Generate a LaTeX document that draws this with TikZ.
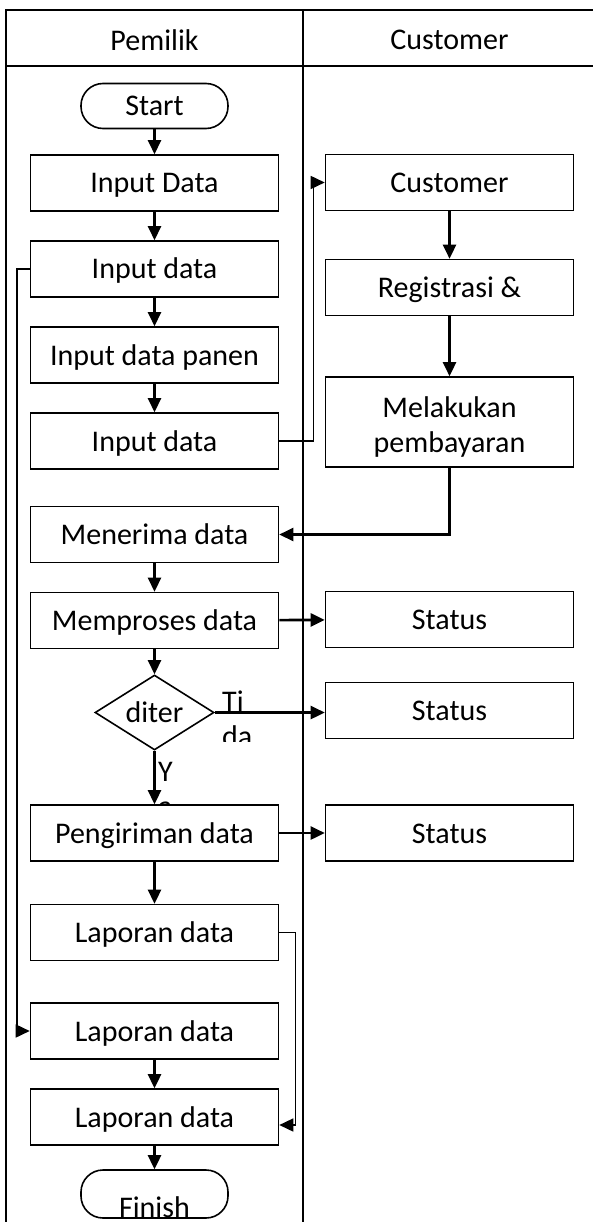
\documentclass[tikz,border=0pt]{standalone}
\usepackage{fontspec}
\setmainfont{Carlito}
\usetikzlibrary{arrows.meta,shapes.geometric}

\begin{document}
\begin{tikzpicture}[x=1pt, y=-1pt, node distance=86pt,
  font=\fontsize{30}{35}\selectfont,
  box/.style = {draw, line width=1.6pt, fill=white, minimum width=248pt, minimum height=56pt, inner sep=0pt, text height=26pt, text depth=6pt},
  term/.style = {draw, line width=1.6pt, fill=white, rounded corners=22pt, minimum width=147pt, minimum height=45pt, inner sep=0pt, text height=26pt, text depth=6pt},
  dec/.style = {draw, diamond, line width=1.6pt, fill=white, minimum width=119pt, minimum height=75pt, inner sep=0pt, aspect=1.6},
  flow/.style = {line width=2.6pt, -{Triangle[length=14pt,width=13pt]}},
  link/.style = {line width=1.6pt, -{Triangle[length=14pt,width=13pt]}},
  lane/.style = {line width=1.8pt},
  lbl/.style = {inner sep=0pt, align=left}]
\useasboundingbox (0,0) rectangle (593,1222);

% lanes
\draw[lane] (6,1222) -- (6,10) -- (593,10);
\draw[lane] (6,66) -- (593,66);
\draw[lane] (303,10) -- (303,1222);
\node (hpemilik) at (154.5,40) {Pemilik};
\node (hcust) at (449.5,40) {Customer};

% pemilik
\node[term] (start) at (154.5,106) {Start};
\node[box] (in1) at (154.5,183) {Input Data};
\node[box] (in2) [below of=in1] {Input data};
\node[box] (panen) [below of=in2] {Input data panen};
\node[box] (in3) [below of=panen] {Input data};
\node[box] (terima) at (154.5,534.5) {Menerima data};
\node[box] (proses) [below of=terima] {Memproses data};
\node[dec] (cek) at (154.5,712.5) {diter};
\begin{scope}
\clip (216,680) rectangle (300,741);
\node[lbl, anchor=north west] (tidak) at (222,691) {Ti\\da};
\end{scope}
\node[lbl, anchor=north west] (ya) at (158,762) {Y\\a};
\node[box] (kirim) at (154.5,833) {Pengiriman data};
\node[box] (lap1) at (154.5,932.5) {Laporan data};
\node[box] (lap2) at (154.5,1031) {Laporan data};
\node[box] (lap3) [below of=lap2] {Laporan data};
\node[term, minimum height=48pt] (finish) at (154.5,1194) {\raisebox{-13pt}[0pt][0pt]{Finish}};

% customer
\node[box] (cust) at (449.5,182.5) {Customer};
\node[box] (reg) at (449.5,287.5) {Registrasi \&};
\node[box, minimum height=90pt, text height=61pt, text depth=1pt, align=center] (bayar) at (449.5,422) {Melakukan\\pembayaran};
\node[box] (st1) at (449.5,619.5) {Status};
\node[box] (st2) at (449.5,710.5) {Status};
\node[box] (st3) at (449.5,833) {Status};

% arrows
\draw[flow] (start) -- (in1);
\draw[flow] (in1) -- (in2);
\draw[flow] (in2) -- (panen);
\draw[flow] (panen) -- (in3);
\draw[link] (in3.east) -- ++(34,0) |- (cust.west);
\draw[link] (in2.west) -- ++(-13,0) |- (lap2.west);
\draw[flow] (cust) -- (reg);
\draw[flow] (reg) -- (bayar);
\draw[flow] (bayar.south) |- (terima.east);
\draw[flow] (terima) -- (proses);
\draw[flow] (proses) -- (st1);
\draw[flow] (proses) -- (cek);
\draw[flow] (cek.east) -- (cek.east -| st2.west);
\draw[flow] (cek) -- (kirim);
\draw[flow] (kirim) -- (st3);
\draw[flow] (kirim) -- (lap1);
\draw[link] (lap1.east) -- ++(16,0) |- ([yshift=-8pt]lap3.east);
\draw[flow] (lap2) -- (lap3);
\draw[flow] (lap3) -- (finish);
\end{tikzpicture}
\end{document}
